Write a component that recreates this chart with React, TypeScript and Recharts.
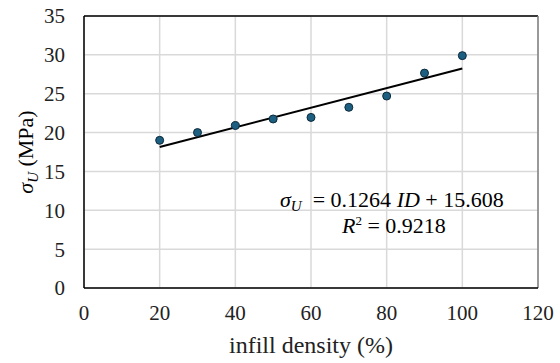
import {
	ComposedChart,
	Scatter,
	Line,
	XAxis,
	YAxis,
	CartesianGrid,
	ReferenceLine,
	Label,
} from 'recharts'

const infill = [20, 30, 40, 50, 60, 70, 80, 90, 100]
const strength = [19.0, 20.0, 20.9, 21.75, 21.95, 23.25, 24.7, 27.65, 29.9]
const xTicks = [0, 20, 40, 60, 80, 100, 120]
const yTicks = [0, 5, 10, 15, 20, 25, 30, 35]
const slope = 0.1264
const intercept = 15.608
const rSquared = 0.9218

const font = "'Liberation Serif', 'Times New Roman', serif"

const points = infill.map((x, i) => ({ x, y: strength[i] }))
const trend = [infill[0], infill[infill.length - 1]].map((x) => ({
	x,
	t: slope * x + intercept,
}))

function Dot(props: any) {
	const { cx, cy } = props
	return <circle cx={cx} cy={cy} r={4} fill="#1d5f80" stroke="#0d2a3a" strokeWidth={1} />
}

function YTitle(props: any) {
	const { viewBox } = props
	const cy = viewBox.y + viewBox.height / 2
	const cx = 33
	return (
		<text
			x={cx}
			y={cy}
			transform={`rotate(-90 ${cx} ${cy})`}
			textAnchor="middle"
			style={{ fontFamily: font, fontSize: 22 }}
			fill="#000"
		>
			<tspan fontStyle="italic">σ</tspan>
			<tspan fontStyle="italic" fontSize={15} dy={5}>U</tspan>
			<tspan dy={-5}> (MPa)</tspan>
		</text>
	)
}

export default function App() {
	return (
		<div style={{ position: 'absolute', left: 0, top: 0, fontFamily: font }}>
			<ComposedChart
				width={560}
				height={363}
				margin={{ top: 16, right: 22, left: 0, bottom: 0 }}
			>
				<CartesianGrid stroke="#d9d9d9" strokeWidth={1.5} />
				<XAxis
					type="number"
					dataKey="x"
					domain={[0, 120]}
					ticks={xTicks}
					height={75}
					tickLine={false}
					tickSize={0}
					tickMargin={17}
					axisLine={{ stroke: '#000', strokeWidth: 1.5 }}
					tick={{ fill: '#222', fontFamily: font, fontSize: 21 }}
				>
					<Label
						value="infill density (%)"
						position="insideBottom"
						offset={10}
						style={{ fill: '#222', fontFamily: font, fontSize: 24 }}
					/>
				</XAxis>
				<YAxis
					type="number"
					domain={[0, 35]}
					ticks={yTicks}
					width={84}
					tickLine={false}
					tickSize={0}
					tickMargin={19}
					axisLine={{ stroke: '#000', strokeWidth: 1.5 }}
					tick={{ fill: '#222', fontFamily: font, fontSize: 21 }}
				>
					<Label content={<YTitle />} />
				</YAxis>
				<ReferenceLine y={35} stroke="#000" strokeWidth={1.5} />
				<ReferenceLine x={120} stroke="#808080" strokeWidth={1.5} />
				<Line
					data={trend}
					dataKey="t"
					stroke="#000"
					strokeWidth={2}
					dot={false}
					isAnimationActive={false}
				/>
				<Scatter
					data={points}
					dataKey="y"
					shape={<Dot />}
					isAnimationActive={false}
				/>
				<text x={280} y={207} textAnchor="start" style={{ fontFamily: font, fontSize: 22 }} fill="#000">
					<tspan fontStyle="italic">σ</tspan>
					<tspan fontStyle="italic" fontSize={15} dy={4}>U</tspan>
					<tspan dy={-4} dx={11}>{`= ${slope} `}</tspan>
					<tspan fontStyle="italic">ID</tspan>
					<tspan>{` + ${intercept}`}</tspan>
				</text>
				<text x={342} y={233} textAnchor="start" style={{ fontFamily: font, fontSize: 22 }} fill="#000">
					<tspan fontStyle="italic">R</tspan>
					<tspan fontSize={13} dy={-8}>2</tspan>
					<tspan dy={8}>{` = ${rSquared}`}</tspan>
				</text>
			</ComposedChart>
		</div>
	)
}
